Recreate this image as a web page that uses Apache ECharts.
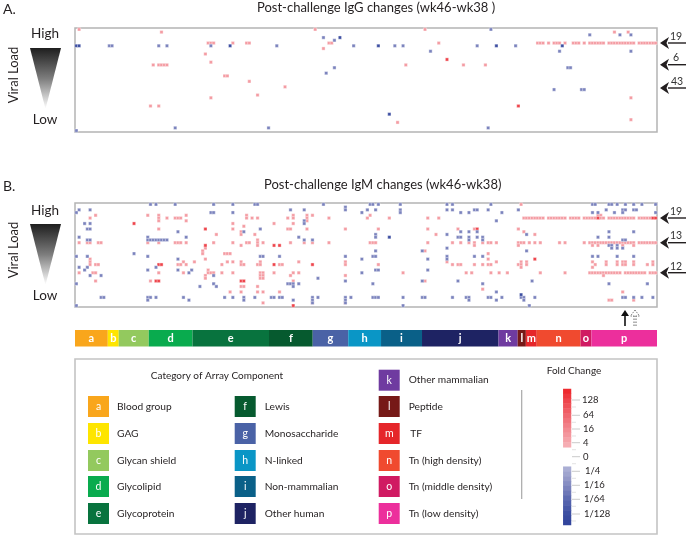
<!DOCTYPE html>
<html><head><meta charset="utf-8">
<style>html,body{margin:0;padding:0;background:#fff}#c{width:689px;height:538px}</style>
<script src="https://cdn.jsdelivr.net/npm/echarts@6/dist/echarts.min.js"></script>
</head><body><div id="c"></div>
<script>
// Each list: [row, [columns]] at a given fold-change level
const igGRed = [[0,[1,87,127]],[1,[31,196,201]],[5,[48,49,50,57,62,63,92,93,132,168,169,170,172,174,175,176,178,181,182,183,185,187,188,189,190,191,192,194,195,196,197,198,199,200,201,202,203,205,206,207,208,209,210,211]],[7,[90]],[9,[47]],[12,[49]],[13,[28,30,31,32,33,120,141,149]],[17,[54,55]],[19,[63]],[21,[76]],[24,[66]],[25,[49,202]],[28,[27,30]],[33,[202]],[34,[117]]];
const igGStrongRed = [[11,[135]],[28,[161]]];
const igGBlue = [[0,[151]],[2,[187,198,202]],[3,[90]],[4,[94]],[6,[12,13,30,33,49,73,101,116,119,146,160]],[8,[129,176,202]],[14,[94,179,180]],[16,[91]],[22,[174,184,185]],[36,[36,70,150]],[37,[0]]];
const igGDarkBlue = [[3,[96]],[6,[0,1,56,110,153,177]],[31,[114]]];

const igMRed = [
 [0,[162]],[4,[7,26,30,40,62,79,84,86,107,190,191]],
 [5,[5,30,33,36,37,38,62,64,66,77,79,84,92,106,114,128,132,163,164,165,166,167,168,169,170,172,173,174,175,176,177,178,180,181,182,183,185,186,187,188,189,191,192,194,195,196,197,198,199,200,201,202,203,205,206,207,208,209]],
 [6,[30,40,84]],[7,[57,72,79]],[8,[61]],[9,[30,57,77,78,84,98,110,128,139,145,161]],[10,[60,163]],[11,[51,60,65,131,167]],[13,[66]],
 [14,[1,4,5,8,9,26,30,36,37,38,40,50,57,62,63,66,68,78,83,86,92,107,108,109,128,137,140,143,145,148,150,151,153,161,162,163,165,167,169,176,178,185,187,188,189,190,191,192,193,194,195,196,197,198,199,200,201,202,203,205,206,207,208,209,210,211]],
 [15,[60,66,145,161,188,190,199,203]],[16,[47]],[17,[46,127]],[18,[46,54,55,56,150]],[20,[5,47,150]],
 [21,[5,39,43,55,57,60,67,81,98,135,153,162,164,188,193,197,199,200,203,210]],
 [22,[5,7,8,37,38,40,53,60,61,66,67,74,75,98,110,137,139,140,145,148,150,151,161,162,164,189,193,197,199,200,203,208,210]],
 [23,[162,188]],[24,[48]],[25,[1,6,7,30,39,48,49,50,53,57,67,68,72,79,81,119,142,144,151,154,157,169,178,187,188,189,190,191,192,193,194,195,196,197,198,200,201,202,203,204,205,206,207,209,210,211]],
 [26,[47,67,68,78,98,192]],[27,[47,67,68]],[28,[7,27,79,127]],[30,[60,61,66]],[31,[148]],[32,[56,60,66,68,74,199]],[35,[194,195,203]],[36,[68,86,98]]
];
const igMStrongRed = [[5,[190,210,211]],[7,[21]],[9,[47,146]],[15,[47,72,74]],[20,[167]],[22,[30,31,72,86]],[28,[29,30,60,61]],[37,[79]]];
const igMBlue = [
 [0,[27,29,36,50,57,65,66,90,107,108,110,118,135,137,151,188,189,194,195,197,200,203,206,211]],[1,[98]],
 [2,[1,5,78,83,98,106,109,118,135,137,145,146,150,161,193,199,200,203,204]],
 [3,[0,49,50,57,104,118,140,143,155,188,190,196,199,211]],[6,[83,153]],[7,[3,5,83]],[9,[4,5,67]],[10,[37,61,140,143,146,194,203]],
 [11,[109,135,164]],[12,[1,26,40,81,109,139,140,143,146,148,190,194]],
 [13,[4,5,26,27,28,29,30,31,32,33,83,86,143,148,199,200]],[15,[194,195,197]],[16,[135,195,197,199]],[17,[109,126,164]],[18,[21]],
 [19,[0,4,26,67,68,74,98,108,109,135,145,148,188,190,197,203]],[20,[37,104,128,135]],
 [23,[1,4,29]],[24,[3,26,37,42,109,110,128]],[25,[41,104]],[26,[5,9,50]],[27,[88]],[28,[98,126,139,166]],
 [29,[0,50,77,78,79,81,108,148,194,208]],[30,[45,51,79]],[32,[153]],
 [34,[9,10,26,27,29,39,54,57,61,65,71,72,74,75,86,88,98,100,108,109,110,119,126,127,137,142,143,150,151,155,162,163,167,199,200,203,206,210]],
 [35,[26,41,61,79,86,98,143,153,163]],[36,[86,98]],[37,[0,119,165]]
];
const igMDarkBlue = [[12,[114]],[33,[162]]];

const categoryLetters = ['a','b','c','d','e','f','g','h','i','j','k','l','m','n','o','p'];
const categoryNames = ['Blood group','GAG','Glycan shield','Glycolipid','Glycoprotein','Lewis','Monosaccharide','N-linked','Non-mammalian','Other human','Other mammalian','Peptide','TF','Tn (high density)','Tn (middle density)','Tn (low density)'];
const categoryCounts = [12,4,11,16,28,16,13,12,15,28,7,3,4,16,4,24];
const categoryColors = ['#f9a61c','#fee500','#93c95e','#09ab4e','#08733e','#065a2f','#4a62a6','#0a96c6','#0a6088','#1e2363','#6f3ba0','#761917','#e5262a','#f04a2f','#d01a62','#ec2f9c'];
const foldSteps = [7,6.5,6,5.6,5.2,4.8,4.4,4,3.6,3.2,2.8,2.4,null,null,null,null,-2.4,-2.8,-3.2,-3.6,-4,-4.4,-4.8,-5.2,-5.6,-6,-6.5,-7];
const foldTickLabels = ['128','64','16','4','0','1/4','1/16','1/64','1/128'];
const foldColors = ['#32459c','#3d4fa2','#5765ae','#7b83bd','#9a9fcb','#b5b8da','#d0d2e7','#ffffff','#f9d2d4','#f7b9bd','#f49ca3','#f27f87','#f0626a','#ee454c','#ee2a2f'];
const LEVELS = {red:3, strong:6, blue:-4, dark:-6};
const ROWS = 38, COLS = 212;

function cells(list, v){ const out=[]; list.forEach(([r,cs])=>cs.forEach(c=>out.push([c,r,v]))); return out; }
const igGData = [].concat(cells(igGRed,LEVELS.red),cells(igGStrongRed,LEVELS.strong),cells(igGBlue,LEVELS.blue),cells(igGDarkBlue,LEVELS.dark));
const igMData = [].concat(cells(igMRed,LEVELS.red),cells(igMStrongRed,LEVELS.strong),cells(igMBlue,LEVELS.blue),cells(igMDarkBlue,LEVELS.dark));
const idx = n => Array.from({length:n},(_,i)=>i);

const FONT = 'Lato, sans-serif';
const TXT = '#231f20';
function text(x,y,s,size,o){ return Object.assign({type:'text',x,y,silent:true,style:Object.assign({text:s,font:size+'px '+FONT,fill:TXT,textAlign:'left',textVerticalAlign:'middle'},o||{})}); }
function line(x1,y1,x2,y2,stroke,w,dash){ return {type:'line',silent:true,shape:{x1,y1,x2,y2},style:{stroke,lineWidth:w,lineDash:dash||null}}; }
function sideArrow(y,label,lx,ly){ return [
  line(668,y,686,y,'#231f20',1.4),
  {type:'polygon',silent:true,shape:{points:[[660,y],[669,y-6],[666.5,y],[669,y+6]]},style:{fill:'#231f20'}},
  text(lx,ly,label,10.5,{textAlign:'center',fill:'#333'})
];}
function panel(top,letter,title,tx,high,low,vl,triTop,triBot){ return [
  text(3,top,letter,14),
  text(tx,top-1,title,13,{textAlign:'left'}),
  text(45,high,'High',13.5,{textAlign:'center'}),
  text(45,low,'Low',13.5,{textAlign:'center'}),
  {type:'text',silent:true,x:14,y:vl,rotation:Math.PI/2,style:{text:'Viral Load',font:'13px '+FONT,fill:TXT,textAlign:'center',textVerticalAlign:'middle'}},
  {type:'polygon',silent:true,shape:{points:[[30,triTop],[61,triTop],[45.5,triBot]]},style:{fill:new echarts.graphic.LinearGradient(0,0,0,1,[{offset:0,color:'#1e1e1e'},{offset:0.5,color:'#7d7d7d'},{offset:1,color:'#ffffff'}])}}
];}

const graphics = [].concat(
  panel(9,'A.','Post-challenge IgG changes (wk46-wk38 )',257,34,120,75,48,109),
  panel(186,'B.','Post-challenge IgM changes (wk46-wk38)',264,211,296,250,224,285),
  sideArrow(43,'19',676,37), sideArrow(64.7,'6',676,58), sideArrow(88,'43',677,82),
  sideArrow(218,'19',676,212), sideArrow(242.7,'13',676,236), sideArrow(272.7,'12',676,267),
  [ line(625,326,625,313,'#111',1.6),
    {type:'polygon',silent:true,shape:{points:[[625,310],[621,316],[629,316]]},style:{fill:'#111'}},
    line(634,326,634,316,'#666',1,[1.5,1.5]), line(636,326,636,316,'#666',1,[1.5,1.5]),
    {type:'polygon',silent:true,shape:{points:[[635,310],[630.5,316],[639.5,316]]},style:{fill:'#fff',stroke:'#666',lineWidth:0.8,lineDash:[1.5,1]}},
    {type:'rect',silent:true,shape:{x:75,y:359,width:582,height:175},style:{fill:'#fff',stroke:'#c4c4c4',lineWidth:1.6},z:-1},
    text(217,376,'Category of Array Component',10,{textAlign:'center'}),
    text(574,371,'Fold Change',10,{textAlign:'center'}),
    line(521.7,390,521.7,499,'#a8a8a8',1.2)
  ]
);
// legend swatches and names
const swatchY = [396,423,450,476,503];
const swatchPos = [];
for(let i=0;i<5;i++) swatchPos.push([88,swatchY[i],117]);
for(let i=0;i<5;i++) swatchPos.push([234.7,swatchY[i],264.7]);
swatchPos.push([378.7,369.7,408.7]);
for(let i=0;i<5;i++) swatchPos.push([378.7,swatchY[i],408.7]);
categoryLetters.forEach((l,i)=>{
  const [x,y,tx]=swatchPos[i];
  graphics.push({type:'rect',silent:true,shape:{x,y,width:21,height:21},style:{fill:categoryColors[i]}});
  graphics.push(text(x+10.5,y+10.5,l,10.5,{textAlign:'center',fill:'#fff'}));
  graphics.push(text(i===12?tx+1.5:tx,y+10.5,categoryNames[i],10.2));
});
// fold-change ticks
const tickY = [400,415.3,429,442.7,456.7,471.3,485.3,499.3,514];
const tickX = [582,583,583,583,583,585,584,584,584];
tickY.forEach((y,i)=>{
  graphics.push(line(572,y,580,y,'#bdbdbd',0.8));
  graphics.push(text(tickX[i],y,foldTickLabels[i],9.5));
  graphics.push(line(572,y+7,576,y+7,'#d5d5d5',0.7));
});

function hmAxes(i,n,m){ return {
  x:{type:'category',gridIndex:i,data:idx(n),show:false},
  y:{type:'category',gridIndex:i,data:idx(m),show:false,inverse:true}
};}
const a0=hmAxes(0,COLS,ROWS), a1=hmAxes(1,COLS,ROWS), a3=hmAxes(3,1,foldSteps.length);
const heat=(i,data,extra)=>Object.assign({type:'heatmap',xAxisIndex:i,yAxisIndex:i,data,progressive:0,animation:false,silent:true,
   itemStyle:{borderColor:'rgba(255,255,255,0.75)',borderWidth:0.5},emphasis:{disabled:true}},extra||{});

const chart = echarts.init(document.getElementById('c'),null,{renderer:'canvas'});
chart.setOption({
  animation:false,
  backgroundColor:'#fff',
  grid:[
    {left:75,top:28,width:582,height:104,show:true,borderColor:'#b4b4b4',borderWidth:1.5,backgroundColor:'#fff'},
    {left:75,top:203,width:582,height:104,show:true,borderColor:'#b4b4b4',borderWidth:1.5,backgroundColor:'#fff'},
    {left:75,top:330,width:582,height:16.5},
    {left:563.3,top:389,width:7.7,height:136}
  ],
  xAxis:[a0.x,a1.x,{type:'value',gridIndex:2,min:0,max:213,show:false},a3.x],
  yAxis:[a0.y,a1.y,{type:'category',gridIndex:2,data:['strip'],show:false},a3.y],
  visualMap:{type:'continuous',show:false,min:-7,max:7,seriesIndex:[0,1,2],dimension:2,inRange:{color:foldColors}},
  series:[
    heat(0,igGData),
    heat(1,igMData),
    heat(3,foldSteps.map((v,i)=>v===null?null:[0,i,v]).filter(Boolean),{itemStyle:{borderWidth:0}}),
  ].concat(categoryLetters.map((l,i)=>({
    type:'bar',stack:'strip',xAxisIndex:2,yAxisIndex:2,barWidth:'100%',silent:true,animation:false,
    data:[categoryCounts[i]],itemStyle:{color:categoryColors[i]},
    label:{show:true,position:'inside',formatter:l,color:'#fff',fontFamily:FONT,fontWeight:'bold',fontSize:11}
  }))),
  graphic:{elements:graphics}
});
</script></body></html>
